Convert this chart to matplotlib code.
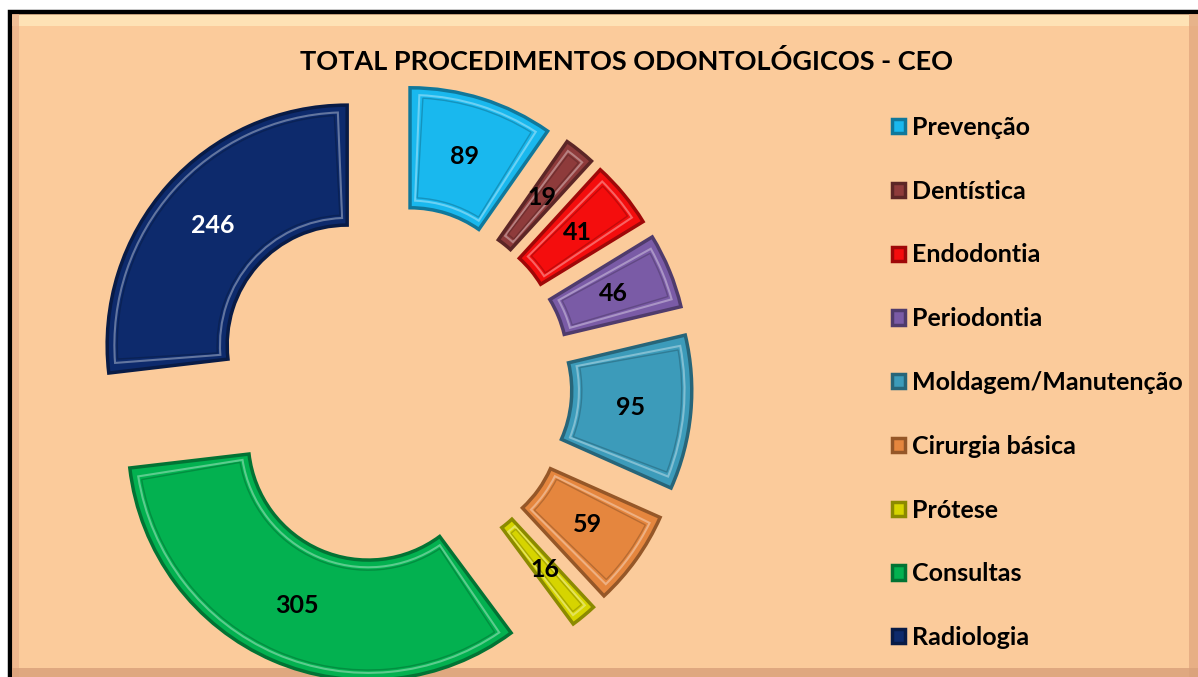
import numpy as np
import matplotlib
matplotlib.use('Agg')
import matplotlib.pyplot as plt
from matplotlib.patches import Rectangle, Wedge
from matplotlib.colors import to_rgb

# dados do gráfico
categorias = ['Prevenção', 'Dentística', 'Endodontia', 'Periodontia', 'Moldagem/Manutenção',
              'Cirurgia básica', 'Prótese', 'Consultas', 'Radiologia']
valores = [89, 19, 41, 46, 95, 59, 16, 305, 246]
cores = ['#19B8EE', '#8E3B3B', '#F40D0D', '#7A5BA6', '#3C9BBA',
         '#E5863E', '#D6D400', '#03B150', '#0D2A6C']
titulo = 'TOTAL PROCEDIMENTOS ODONTOLÓGICOS - CEO'

plt.rcParams['font.family'] = ['Lato', 'DejaVu Sans']

W, H = 1198, 677
fig = plt.figure(figsize=(W / 100, H / 100), dpi=100)
fig.patch.set_facecolor('white')

def escurecer(c, f=0.65):
    r, g, b = to_rgb(c)
    return (r * f, g * f, b * f)

def clarear(c, f=0.35):
    r, g, b = to_rgb(c)
    return (r + (1 - r) * f, g + (1 - g) * f, b + (1 - b) * f)

# moldura com fundo pêssego
fig.patches.append(Rectangle((10 / W, -0.1), 1.2, 1 - 12 / H + 0.1, transform=fig.transFigure,
                             facecolor='#FBCB9B', edgecolor='black', linewidth=3.2, zorder=-5))
# efeito de relevo da moldura
fig.patches.append(Rectangle((12 / W, 1 - 26 / H), 1, 11 / H, transform=fig.transFigure,
                             facecolor='#FFE9BC', edgecolor='none', alpha=0.8, zorder=-4))
fig.patches.append(Rectangle((12 / W, 0), 7 / W, 1 - 14 / H, transform=fig.transFigure,
                             facecolor='#EBB08A', edgecolor='none', alpha=0.7, zorder=-4))
fig.patches.append(Rectangle((1189 / W, 0), 10 / W, 1 - 14 / H, transform=fig.transFigure,
                             facecolor='#E2A880', edgecolor='none', alpha=0.8, zorder=-4))
fig.patches.append(Rectangle((12 / W, 0), 1, 9 / H, transform=fig.transFigure,
                             facecolor='#D9A07A', edgecolor='none', alpha=0.8, zorder=-4))

ax = fig.add_axes([0, 0, 1, 1])
ax.patch.set_alpha(0)
total = sum(valores)

wedges, textos, autotextos = ax.pie(
    valores, colors=cores, startangle=90, counterclock=False, radius=1,
    explode=[0.25] * len(valores),
    wedgeprops=dict(width=0.5, linewidth=2.5),
    autopct=lambda p: '{:.0f}'.format(p * total / 100), pctdistance=0.75,
    textprops=dict(fontsize=18, fontweight='bold', color='black'))

for w, c in zip(wedges, cores):
    w.set_edgecolor(escurecer(c))
    # contorno interno para imitar o bisel
    d = 0.03
    span = w.theta2 - w.theta1
    dt = min(np.degrees(d / 0.75), 0.2 * span)
    ins = Wedge(w.center, w.r - d, w.theta1 + dt, w.theta2 - dt, width=w.width - 2 * d,
                facecolor='none', edgecolor=clarear(c), linewidth=1.5, zorder=w.get_zorder() + 0.1)
    ax.add_patch(ins)
    dt2 = min(dt * 1.4, 0.28 * span)
    ins2 = Wedge(w.center, w.r - d - 0.012, w.theta1 + dt2, w.theta2 - dt2,
                 width=w.width - 2 * d - 0.024,
                 facecolor='none', edgecolor=escurecer(c, 0.8), linewidth=1.0, zorder=w.get_zorder() + 0.1)
    ax.add_patch(ins2)

autotextos[-1].set_color('white')
for t in autotextos:
    t.set_zorder(5)

ax.set_xlim(-392 / 240, (W - 392) / 240)
ax.set_ylim(-(H - 385) / 240, 385 / 240)
ax.set_aspect('auto')
ax.axis('off')

fig.text(627 / W, 1 - 62 / H, titulo, ha='center', va='center', fontsize=19.5, fontweight='bold')

leg = fig.legend(wedges, categorias, loc='upper left', bbox_to_anchor=(892 / W, 1 - 116 / H),
                 frameon=False, prop=dict(size=18, weight='bold'), handlelength=0.5, handleheight=0.5,
                 handletextpad=0.3, labelspacing=1.63, borderpad=0, borderaxespad=0)

fig.savefig('out.png', dpi=100)
